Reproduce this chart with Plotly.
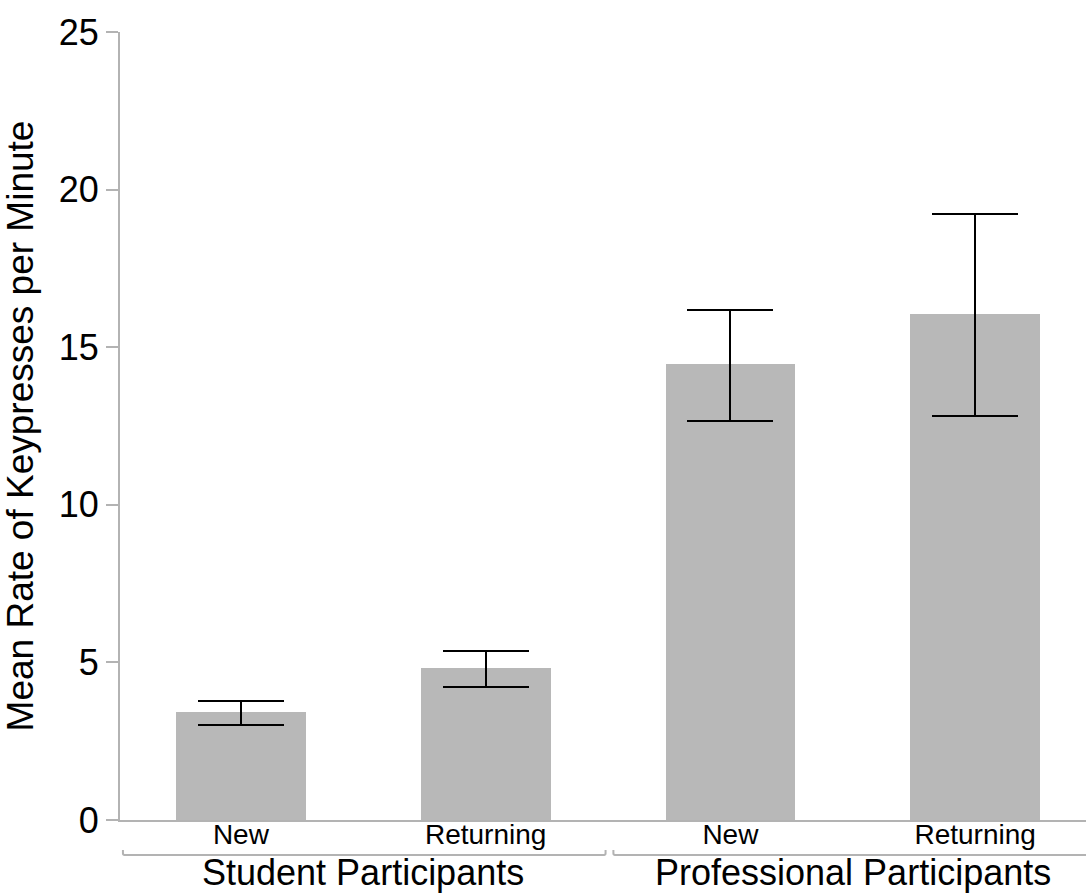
import plotly.graph_objects as go

# Mean keypress rate per condition, with asymmetric confidence bounds
conditions = ["New", "Returning", "New", "Returning"]
groups = ["Student Participants", "Professional Participants"]
mean_rate = [3.43, 4.82, 14.47, 16.05]
upper_bound = [3.78, 5.35, 16.18, 19.23]
lower_bound = [3.00, 4.23, 12.67, 12.82]
y_ticks = [0, 5, 10, 15, 20, 25]

FONT = "Liberation Sans, Arial, Helvetica, sans-serif"
AXIS_GRAY = "#b3b3b3"
BAR_GRAY = "#b8b8b8"

xs = list(range(len(mean_rate)))
err_plus = [u - m for u, m in zip(upper_bound, mean_rate)]
err_minus = [m - l for m, l in zip(mean_rate, lower_bound)]

fig = go.Figure()
fig.add_trace(go.Bar(
    x=xs,
    y=mean_rate,
    width=0.53,
    marker=dict(color=BAR_GRAY, line=dict(width=0)),
    error_y=dict(
        type="data",
        symmetric=False,
        array=err_plus,
        arrayminus=err_minus,
        color="black",
        thickness=2,
        width=43,
    ),
    showlegend=False,
))

# Group brackets beneath the category labels
y_line = -0.0445
y_tip = -0.038
r = 0.012
spans = [(-0.482, 1.49), (1.522, 3.52)]
for x0, x1 in spans:
    path = (
        f"M {x0},{y_tip} L {x0},{y_line + 0.002} "
        f"Q {x0},{y_line} {x0 + r},{y_line} "
        f"L {x1 - r},{y_line} "
        f"Q {x1},{y_line} {x1},{y_line + 0.002} L {x1},{y_tip}"
    )
    fig.add_shape(type="path", path=path, xref="x", yref="paper",
                  line=dict(color=AXIS_GRAY, width=2))

for i, name in enumerate(groups):
    fig.add_annotation(
        x=0.5 + 2 * i, y=-0.067, xref="x", yref="paper",
        text=name, showarrow=False,
        xanchor="center", yanchor="middle",
        font=dict(family=FONT, size=36, color="black"),
    )

fig.update_layout(
    width=1086,
    height=893,
    margin=dict(l=120, r=0, t=32, b=73),
    paper_bgcolor="white",
    plot_bgcolor="white",
    font=dict(family=FONT, color="black"),
    bargap=0,
    xaxis=dict(
        range=[-0.494, 3.453],
        tickmode="array",
        tickvals=xs,
        ticktext=conditions,
        ticks="",
        ticklabelstandoff=-12,
        tickfont=dict(family=FONT, size=28, color="black"),
        showline=True,
        linecolor=AXIS_GRAY,
        linewidth=2,
        showgrid=False,
        zeroline=False,
        fixedrange=True,
    ),
    yaxis=dict(
        range=[0, 25],
        tickmode="array",
        tickvals=y_ticks,
        ticks="outside",
        ticklen=12,
        tickwidth=2,
        tickcolor=AXIS_GRAY,
        tickfont=dict(family=FONT, size=36, color="black"),
        showline=True,
        linecolor=AXIS_GRAY,
        linewidth=2,
        showgrid=False,
        zeroline=False,
        title=dict(
            text="Mean Rate of Keypresses per Minute",
            font=dict(family=FONT, size=37, color="black"),
            standoff=14,
        ),
        fixedrange=True,
    ),
)

fig.write_html("out.html")
